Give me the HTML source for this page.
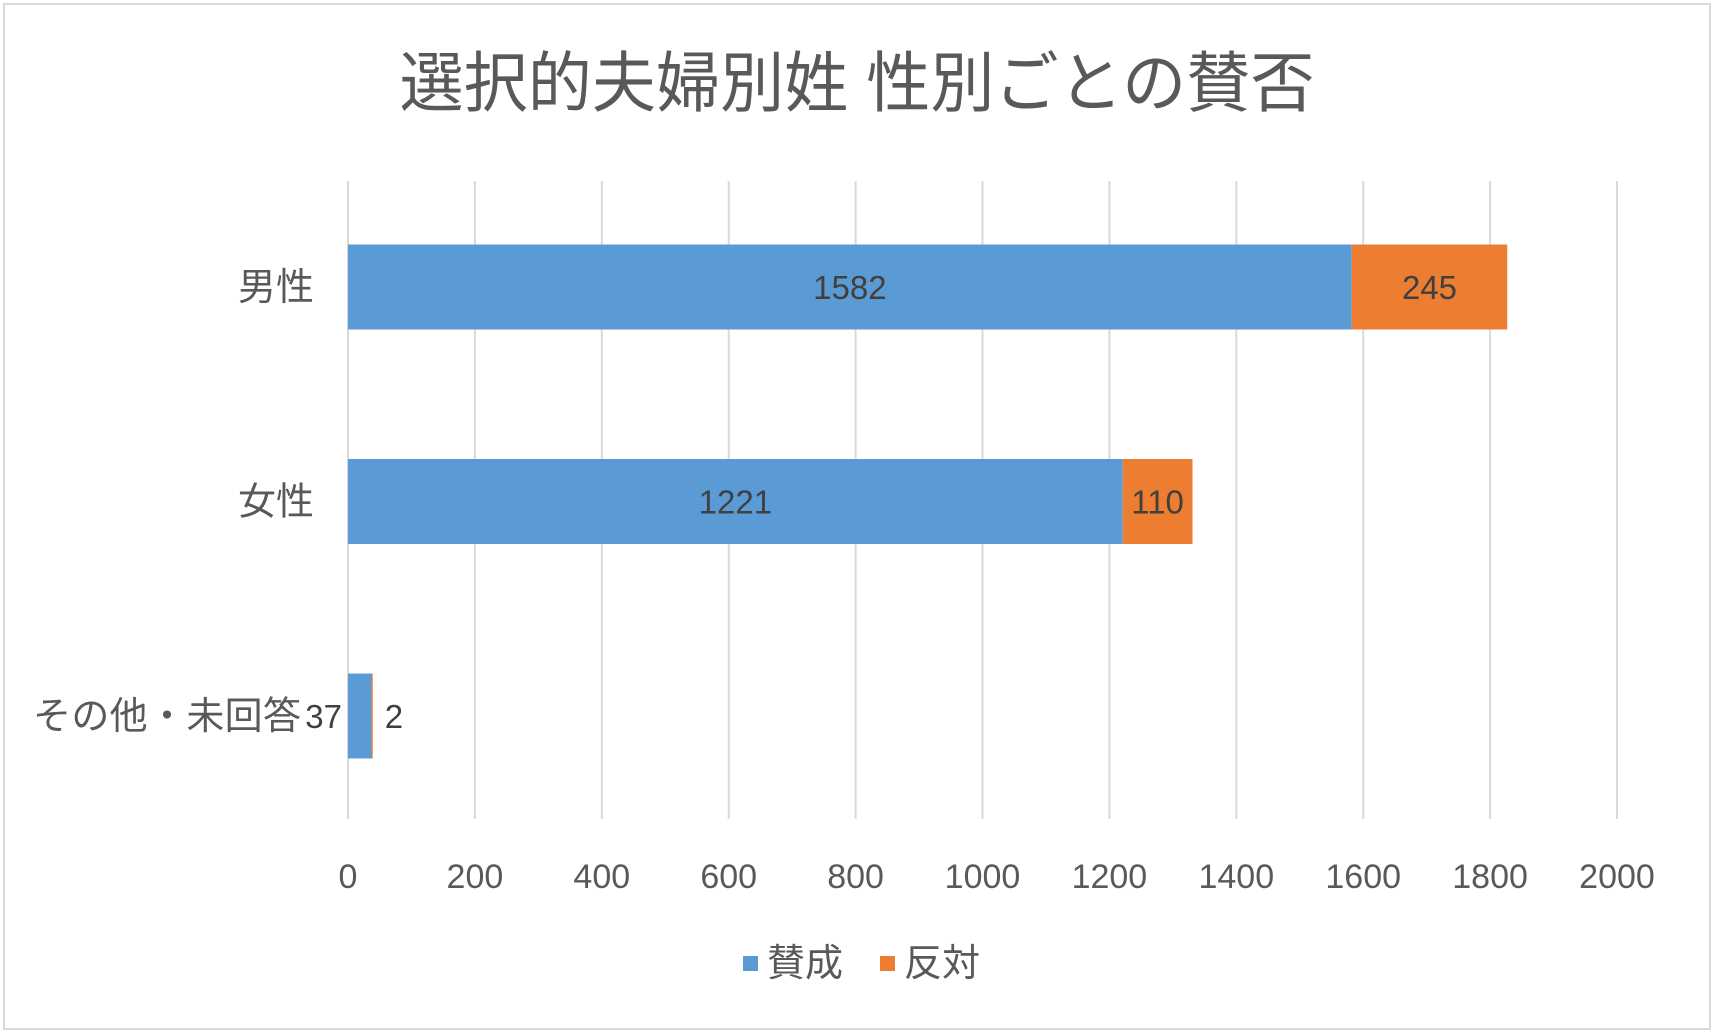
<!DOCTYPE html>
<html><head><meta charset="utf-8"><style>
html,body{margin:0;padding:0;background:#fff;}
svg{display:block;font-family:"Liberation Sans","Noto Sans CJK JP",sans-serif;}
</style></head><body>
<svg id="chart" width="1714" height="1031" viewBox="0 0 1714 1031">
<rect x="4" y="4" width="1706" height="1025" fill="#fff" stroke="#d9d9d9" stroke-width="2"/>
<text x="857" y="106" font-size="66" fill="#595959" text-anchor="middle" textLength="915" lengthAdjust="spacingAndGlyphs">選択的夫婦別姓 性別ごとの賛否</text>
<g id="grid"></g>
<g id="bars"></g>
<g id="labels"></g>
<g>
<rect x="743" y="956" width="15" height="15" fill="#5b9bd5"/>
<text x="767" y="976" font-size="38" fill="#595959">賛成</text>
<rect x="880" y="956" width="15" height="15" fill="#ed7d31"/>
<text x="904" y="976" font-size="38" fill="#595959">反対</text>
</g>
</svg>
<script>
const categories = ["男性", "女性", "その他・未回答"];
const agreeValues = [1582, 1221, 37];
const opposeValues = [245, 110, 2];
const tickValues = [0, 200, 400, 600, 800, 1000, 1200, 1400, 1600, 1800, 2000];

const NS = "http://www.w3.org/2000/svg";
const X0 = 348, X1 = 1617, VMAX = 2000;
const x = v => X0 + (v / VMAX) * (X1 - X0);
const rowCenters = [287, 501, 716];
const y = i => rowCenters[0] + i * (rowCenters[2] - rowCenters[0]) / (categories.length - 1);
const BH = 85;
function mk(tag, attrs, parent, text) {
  const el = document.createElementNS(NS, tag);
  for (const k in attrs) el.setAttribute(k, attrs[k]);
  if (text !== undefined) el.textContent = text;
  parent.appendChild(el);
  return el;
}
const grid = document.getElementById("grid");
const bars = document.getElementById("bars");
const labels = document.getElementById("labels");
tickValues.forEach(t => {
  const l = mk("line", {x1: x(t), x2: x(t), y1: 181, y2: 819, stroke: "#d9d9d9", "stroke-width": 2}, grid);
  
  
  const tx = mk("text", {x: x(t), y: 888, "font-size": 34, fill: "#595959", "text-anchor": "middle"}, grid, String(t));
  
  
});
categories.forEach((c, i) => {
  const cy = y(i);
  const cl = mk("text", {x: 314, y: cy + 13, "font-size": 38, fill: "#595959", "text-anchor": "end"}, labels, c);
  
  
  if (i === 2) { cl.setAttribute("x", 33); cl.setAttribute("text-anchor", "start"); cl.setAttribute("textLength", 268); }
  const a = agreeValues[i], o = opposeValues[i];
  const ba = mk("rect", {x: x(0), y: cy - BH / 2, width: x(a) - x(0), height: BH, fill: "#5b9bd5"}, bars);
  
  
  const bo = mk("rect", {x: x(a), y: cy - BH / 2, width: Math.max(x(a + o) - x(a), 1), height: BH, fill: "#ed7d31"}, bars);
  
  
  let ax = (x(0) + x(a)) / 2, anchorA = "middle";
  let ox = (x(a) + x(a + o)) / 2, anchorO = "middle";
  if (x(a) - x(0) < 60) { ax = x(0) - 6 + 0; anchorA = "end"; ax = 342; }
  if (x(a + o) - x(a) < 60 && x(a + o) - x(a) < 20) { ox = x(a + o) + 12; anchorO = "start"; }
  const la = mk("text", {x: ax, y: cy + 12, "font-size": 33, fill: "#404040", "text-anchor": anchorA}, labels, String(a));
  
  
  const lo = mk("text", {x: ox, y: cy + 12, "font-size": 33, fill: "#404040", "text-anchor": anchorO}, labels, String(o));
  
  
});
</script>
</body></html>
